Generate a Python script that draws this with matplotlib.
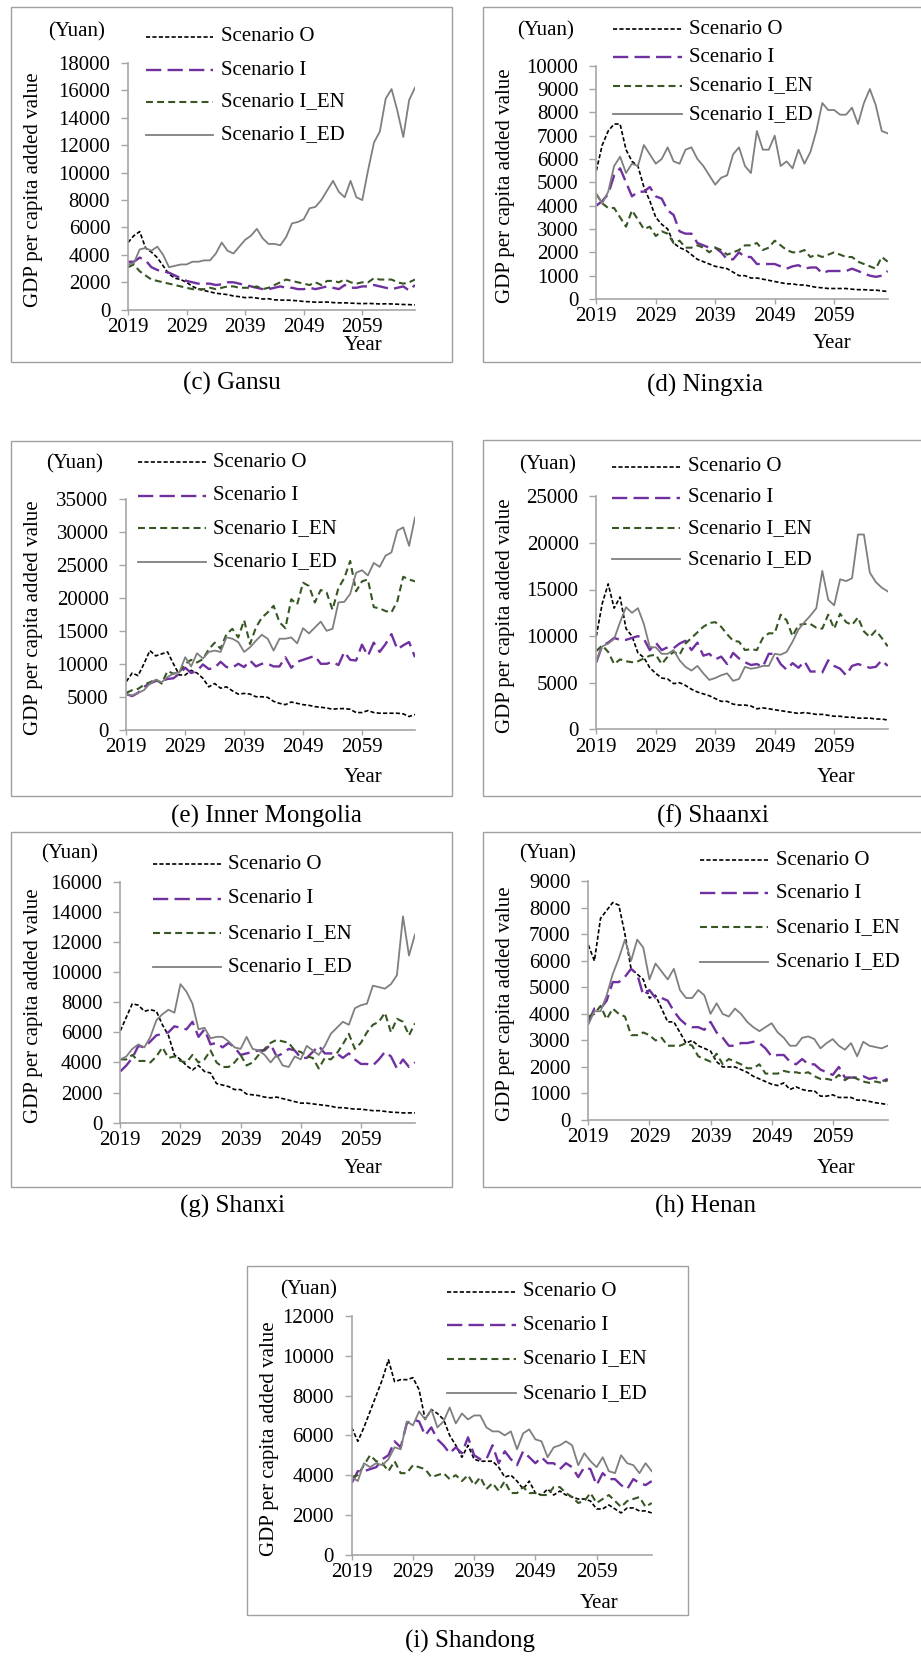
import matplotlib
matplotlib.use("Agg")
import matplotlib.pyplot as plt
from matplotlib.lines import Line2D
from matplotlib.patches import Rectangle

plt.rcParams['font.family'] = ['Liberation Serif', 'DejaVu Serif']
plt.rcParams['lines.scale_dashes'] = False

W, H = 921, 1657

years = list(range(2019, 2069))
year_ticks = [2019, 2029, 2039, 2049, 2059]
scenarios = ["Scenario O", "Scenario I", "Scenario I_EN", "Scenario I_ED"]

# GDP per capita added value (yuan), one list per province and scenario
gansu_o = [4900, 5400, 5700, 4500, 4200, 3800, 3200, 2600, 2300, 2200,
           2000, 1700, 1500, 1400, 1300, 1200, 1150, 1100, 1000, 950,
           880, 900, 850, 780, 800, 720, 700, 700, 680, 650,
           600, 580, 550, 550, 560, 520, 500, 500, 480, 460,
           440, 460, 440, 420, 430, 420, 400, 380, 370, 350]
gansu_i = [3500, 3500, 3800, 3600, 3100, 2900, 2800, 2700, 2500, 2300,
           2100, 2000, 1900, 1900, 1900, 1800, 1850, 2000, 2000, 1900,
           1800, 1700, 1600, 1500, 1500, 1600, 1700, 1600, 1600, 1500,
           1500, 1600, 1500, 1600, 1700, 1600, 1500, 1800, 1600, 1600,
           1700, 1700, 1800, 1700, 1600, 1500, 1600, 1700, 1400, 1800]
gansu_en = [3100, 3300, 2800, 2500, 2200, 2100, 2000, 1900, 1800, 1700,
            1600, 1500, 1500, 1500, 1600, 1500, 1600, 1700, 1700, 1600,
            1600, 1600, 1700, 1500, 1600, 1800, 2000, 2200, 2100, 2000,
            1900, 1800, 2000, 1800, 2100, 2100, 2000, 2200, 2000, 1900,
            2000, 2000, 2300, 2200, 2200, 2200, 2000, 1900, 2000, 2200]
gansu_ed = [3300, 3400, 4400, 4500, 4300, 4600, 4000, 3100, 3200, 3300,
            3300, 3500, 3500, 3600, 3600, 4100, 4900, 4300, 4100, 4600,
            5100, 5400, 5900, 5200, 4800, 4800, 4700, 5300, 6300, 6400,
            6600, 7400, 7500, 8000, 8700, 9400, 8600, 8200, 9400, 8200,
            8000, 10200, 12200, 13000, 15400, 16100, 14500, 12600, 15300, 16200]

ningxia_o = [5500, 6600, 7200, 7500, 7500, 6400, 5900, 5700, 4800, 4200,
             3500, 3200, 3000, 2400, 2200, 2100, 1900, 1700, 1600, 1500,
             1400, 1350, 1300, 1150, 1000, 1000, 900, 900, 850, 800,
             750, 700, 650, 650, 600, 600, 550, 500, 480, 450,
             450, 450, 450, 420, 400, 400, 380, 380, 350, 320]
ningxia_i = [4000, 4200, 4500, 5300, 5600, 5000, 4400, 4600, 4600, 4800,
             4400, 4300, 3800, 3600, 2900, 2800, 2800, 2400, 2300, 2200,
             2200, 2000, 1700, 1700, 2000, 1800, 1800, 1500, 1500, 1500,
             1500, 1400, 1300, 1400, 1450, 1300, 1350, 1350, 1100, 1200,
             1200, 1200, 1200, 1300, 1200, 1100, 1000, 950, 1000, 1200]
ningxia_en = [4500, 4100, 3900, 3900, 3500, 3100, 3800, 3400, 3000, 3100,
              2700, 2900, 2800, 2400, 2500, 2200, 2200, 2300, 2200, 2000,
              2200, 2100, 1900, 2000, 2100, 2300, 2300, 2400, 2100, 2200,
              2500, 2300, 2100, 2000, 2000, 2100, 1800, 1900, 1800, 1900,
              2000, 1900, 1800, 1800, 1600, 1500, 1400, 1300, 1800, 1600]
ningxia_ed = [4500, 4100, 4600, 5700, 6100, 5400, 5800, 5700, 6600, 6200,
              5800, 6000, 6500, 5900, 5800, 6400, 6500, 6000, 5700, 5300,
              4900, 5200, 5300, 6200, 6500, 5700, 5400, 7200, 6400, 6400,
              7000, 5700, 5900, 5600, 6400, 5800, 6300, 7200, 8400, 8100,
              8100, 7900, 7900, 8200, 7500, 8400, 9000, 8300, 7200, 7100]

mongolia_o = [7300, 8600, 8200, 10000, 12000, 11200, 11500, 11800, 10000, 8300,
              8300, 9000, 8600, 7800, 6500, 7000, 6300, 6500, 5900, 5400,
              5500, 5400, 5000, 5000, 4900, 4300, 4000, 3800, 4200, 4000,
              3800, 3700, 3500, 3400, 3300, 3100, 3200, 3200, 3100, 2600,
              2600, 2900, 2600, 2500, 2500, 2500, 2500, 2400, 2000, 2300]
mongolia_i = [5400, 5100, 5600, 6500, 7000, 7400, 7400, 7700, 7800, 8500,
              9400, 8600, 8900, 9900, 9200, 9400, 10300, 9500, 9400, 10000,
              9500, 10500, 9600, 10000, 10000, 9600, 9600, 11000, 9400, 10300,
              10600, 10900, 11200, 10000, 10000, 10300, 9800, 11800, 10600, 10500,
              12900, 11200, 13200, 11800, 13000, 14500, 12200, 12800, 13300, 11000]
mongolia_en = [5600, 6000, 6200, 6800, 7200, 7600, 7000, 8900, 8500, 8700,
               10000, 10600, 10200, 10700, 12200, 13200, 12300, 14500, 15300, 14000,
               16600, 13000, 15500, 17000, 17800, 18800, 16300, 15400, 19800, 19000,
               22300, 21800, 19300, 21200, 20800, 18200, 21500, 23000, 25600, 21000,
               22500, 22800, 18600, 18400, 18000, 17800, 19500, 23200, 22800, 22500]
mongolia_ed = [5400, 5200, 5600, 6000, 7000, 7600, 7200, 8000, 8500, 8700,
               11000, 9600, 11600, 10800, 11800, 12000, 11800, 14000, 13800, 13300,
               11800, 12500, 13500, 14400, 13800, 12000, 13800, 13800, 14000, 13100,
               15400, 14600, 15500, 16400, 15000, 15300, 19300, 19400, 20600, 23800,
               24200, 23400, 25300, 24700, 26400, 26900, 30200, 30700, 27900, 32200]

shaanxi_o = [10000, 13500, 15600, 13000, 14200, 10800, 10000, 8200, 7700, 6600,
             6000, 5500, 5400, 4900, 5000, 4700, 4300, 4000, 3800, 3600,
             3300, 3000, 3000, 2700, 2600, 2600, 2500, 2200, 2300, 2200,
             2100, 2000, 1900, 1800, 1700, 1800, 1700, 1600, 1600, 1500,
             1400, 1400, 1300, 1300, 1200, 1200, 1200, 1100, 1100, 1000]
shaanxi_i = [7200, 9000, 9300, 9800, 9600, 9600, 9800, 10000, 9700, 8500,
             9300, 8500, 8800, 8700, 9200, 9500, 8500, 9300, 7900, 8100,
             7500, 7800, 7000, 8200, 7600, 7200, 6900, 7000, 6700, 8100,
             8100, 7000, 6400, 7100, 6600, 7300, 6200, 6200, 6100, 7400,
             6800, 6500, 5800, 6800, 7000, 6800, 6600, 6700, 7400, 6800]
shaanxi_en = [8400, 9000, 8300, 7000, 7500, 7300, 7200, 7300, 7600, 7900,
              8000, 7000, 7800, 8300, 8000, 9200, 9800, 10400, 11000, 11400,
              11500, 11000, 10200, 9500, 9400, 8500, 8600, 8500, 9800, 10300,
              10300, 12300, 11700, 10000, 11200, 11300, 11300, 10900, 10800, 12300,
              10800, 12400, 11500, 11200, 12000, 10500, 9900, 10600, 9800, 8900]
shaanxi_ed = [7300, 8900, 9200, 9700, 11500, 13100, 12500, 13000, 11300, 8800,
              8800, 8100, 8100, 8500, 7400, 6700, 6300, 6800, 6000, 5300,
              5500, 5800, 6000, 5200, 5400, 6700, 6500, 6600, 6800, 6800,
              8100, 8000, 8300, 9400, 10700, 11500, 12200, 13000, 17000, 13900,
              13300, 16100, 15900, 16200, 20900, 20900, 16800, 15800, 15200, 14800]

shanxi_o = [6100, 7000, 7900, 7800, 7400, 7500, 7400, 6500, 5800, 4500,
            4200, 3800, 3500, 3800, 3400, 3300, 2600, 2500, 2400, 2200,
            2200, 1900, 1850, 1800, 1700, 1650, 1700, 1600, 1500, 1400,
            1300, 1300, 1250, 1200, 1150, 1100, 1000, 1000, 950, 900,
            900, 850, 800, 800, 750, 700, 680, 650, 650, 650]
shanxi_i = [3400, 3800, 4300, 5100, 5000, 5400, 5800, 5900, 6000, 6400,
            6300, 6200, 6700, 5700, 6200, 5200, 5300, 5000, 5300, 5000,
            4500, 4600, 4700, 4800, 4800, 5200, 4400, 4600, 4900, 4800,
            4300, 4300, 4700, 5100, 4600, 4600, 4600, 4300, 4600, 4200,
            3900, 3900, 3800, 4200, 4700, 4400, 3600, 4200, 3700, 4000]
shanxi_en = [4200, 4200, 4500, 4100, 4100, 4000, 4400, 5000, 4300, 4400,
             4100, 4000, 4500, 4000, 4200, 4800, 4000, 3700, 3700, 4000,
             4500, 3800, 4000, 4500, 4900, 5300, 5500, 5400, 5300, 4800,
             4700, 4400, 4300, 3600, 4300, 4200, 4600, 5200, 5900, 4900,
             5300, 6000, 6500, 6700, 7300, 6000, 6900, 6700, 5800, 6600]
shanxi_ed = [4200, 4400, 4900, 5200, 5000, 5700, 6800, 7200, 7500, 7300,
             9200, 8700, 7900, 6200, 6300, 5600, 5700, 5700, 5400, 5000,
             4900, 5700, 4900, 4800, 4500, 4000, 4500, 3800, 3700, 4400,
             4200, 5100, 4800, 4500, 5100, 5900, 6300, 6700, 6500, 7600,
             7800, 7900, 9100, 9000, 8900, 9200, 9800, 13700, 11100, 12500]

henan_o = [6600, 6000, 7600, 7900, 8200, 8100, 7000, 5700, 5500, 5300,
           4600, 4700, 4200, 3700, 3700, 3300, 2900, 3000, 2800, 2700,
           2600, 2200, 2000, 2000, 2000, 1900, 1800, 1650, 1550, 1450,
           1350, 1300, 1400, 1150, 1250, 1150, 1100, 1100, 900, 900,
           950, 850, 850, 850, 750, 750, 700, 650, 620, 580]
henan_i = [3700, 4200, 4200, 4500, 5200, 5200, 5400, 5700, 5500, 4700,
           4900, 4600, 4600, 4500, 4100, 3800, 3600, 3500, 3500, 3400,
           3700, 3300, 3100, 2800, 2800, 2900, 2900, 2950, 2900, 2700,
           2400, 2450, 2450, 2200, 2100, 2300, 2100, 2100, 1900, 1800,
           1700, 2000, 1600, 1600, 1600, 1650, 1550, 1600, 1450, 1550]
henan_en = [3900, 4000, 4300, 3800, 4200, 4000, 3900, 3200, 3200, 3300,
            3200, 3000, 3100, 2800, 2800, 2800, 2900, 2800, 2400, 2300,
            2200, 2500, 2100, 2300, 2200, 2100, 1950, 1950, 2100, 1750,
            1750, 1750, 1850, 1800, 1800, 1750, 1800, 1650, 1550, 1550,
            1500, 1700, 1500, 1650, 1550, 1450, 1400, 1450, 1400, 1500]
henan_ed = [3600, 4100, 4100, 4700, 5500, 6100, 6800, 6000, 6800, 6500,
            5300, 5900, 5600, 5300, 5700, 4900, 4600, 4600, 4900, 4700,
            4000, 4400, 4000, 3900, 4200, 4000, 3700, 3500, 3350, 3500,
            3650, 3300, 3100, 2800, 2800, 3100, 3150, 3050, 2700, 2900,
            3050, 2800, 2650, 2900, 2400, 2950, 2800, 2750, 2700, 2800]

shandong_o = [6400, 5700, 6400, 7200, 8000, 8800, 9800, 8700, 8800, 8800,
              8900, 8300, 6800, 7300, 7100, 6800, 6000, 5500, 4900, 5500,
              4800, 4700, 4700, 4700, 4400, 3900, 4000, 3700, 3300, 3700,
              3100, 3000, 3300, 3000, 3200, 3000, 2900, 2800, 2800, 2700,
              2300, 2300, 2500, 2300, 2100, 2350, 2350, 2200, 2200, 2100]
shandong_i = [3600, 4200, 4200, 4300, 4400, 4800, 5000, 5700, 5400, 6600,
              6800, 6700, 6000, 6400, 5800, 5500, 5100, 5400, 5100, 5900,
              5000, 4800, 4800, 5500, 4600, 5200, 4800, 4500, 5200, 4900,
              4600, 4900, 4600, 4600, 4300, 4600, 4400, 3900, 4400, 4300,
              3500, 4100, 3800, 3800, 3500, 3300, 3800, 3600, 3500, 3700]
shandong_en = [3900, 4000, 4500, 5000, 4700, 4600, 4200, 4700, 4100, 4100,
               4500, 4400, 4300, 3900, 4000, 4100, 3800, 4000, 3700, 4000,
               3500, 3900, 3300, 3600, 3200, 3700, 3100, 3100, 3400, 3100,
               3100, 3000, 3000, 3400, 3400, 3100, 2900, 2600, 2700, 3100,
               2600, 2800, 3000, 2700, 2400, 2700, 2800, 2900, 2400, 2600]
shandong_ed = [3900, 3700, 4600, 4400, 4600, 4500, 4800, 5400, 5300, 6700,
               6500, 7200, 6800, 7300, 6400, 6700, 7400, 6600, 7100, 6800,
               7000, 7000, 6400, 6200, 6200, 6000, 6200, 5300, 6100, 6300,
               5800, 5700, 4900, 5400, 5500, 5700, 5500, 4500, 5100, 4700,
               4400, 4900, 4200, 4100, 5000, 4600, 4500, 4100, 4600, 4200]

# line look for O, I, I_EN, I_ED
styles = [
    dict(color="black", lw=1.2, dashes=(3.0, 1.6)),
    dict(color="#7030A0", lw=1.7, dashes=(11.0, 4.5)),
    dict(color="#375623", lw=1.5, dashes=(5.0, 3.0)),
    dict(color="#7F7F7F", lw=1.3, ls="-"),
]

AXIS_GRAY = "#A6A6A6"
FS = 15


def fx(x):
    return x / W


def fy(y):
    return 1 - y / H


def draw_panel(fig, caption, series, ymax, ystep, box, axbox, ylab_x,
               yuan_xy, leg, year_xy, cap_xy):
    l, t, r, b = box
    fig.add_artist(Rectangle((fx(l), fy(b)), (r - l) / W, (b - t) / H,
                             transform=fig.transFigure, fill=False,
                             ec="#A0A0A0", lw=1.0))

    L, R, y0, ytop = axbox
    ax = fig.add_axes([fx(L), fy(y0), (R - L) / W, (y0 - ytop) / H])
    for vals, st in zip(series, styles):
        ax.plot(years, vals, **st)
    ax.set_xlim(years[0], years[-1])
    ax.set_ylim(0, ymax)
    ax.set_xticks(year_ticks)
    ax.set_yticks(range(0, ymax + 1, ystep))
    ax.patch.set_alpha(0)
    for side in ("top", "right"):
        ax.spines[side].set_visible(False)
    for side in ("left", "bottom"):
        ax.spines[side].set_color(AXIS_GRAY)
        ax.spines[side].set_linewidth(1.2)
    ax.tick_params(axis="y", length=4.8, width=1, color=AXIS_GRAY,
                   labelsize=FS, pad=8.0)
    ax.tick_params(axis="x", length=3.6, width=1, color=AXIS_GRAY,
                   labelsize=FS, pad=2.5)

    fig.text(fx(ylab_x), fy((y0 + ytop) / 2 + 3), "GDP per capita added value",
             rotation=90, ha="center", va="center", fontsize=FS)
    fig.text(fx(yuan_xy[0]), fy(yuan_xy[1]), "(Yuan)", ha="center",
             va="center", fontsize=FS)

    x1, x2, tx, rows = leg
    for name, st, ry in zip(scenarios, styles, rows):
        ln = Line2D([fx(x1), fx(x2)], [fy(ry), fy(ry)],
                    transform=fig.transFigure, **st)
        fig.add_artist(ln)
        fig.text(fx(tx), fy(ry), name, ha="left", va="center", fontsize=FS)

    fig.text(fx(year_xy[0]), fy(year_xy[1]), "Year", ha="center",
             va="center", fontsize=FS)
    fig.text(fx(cap_xy[0]), fy(cap_xy[1]), caption, ha="center",
             va="center", fontsize=18)


fig = plt.figure(figsize=(W / 100, H / 100), dpi=100)

draw_panel(fig, "(c) Gansu", [gansu_o, gansu_i, gansu_en, gansu_ed],
           18000, 2000, (10.7, 7, 452, 362), (128, 415, 309.7, 63), 33.3,
           (76.7, 31.7), (145.7, 213, 220.7, [36.7, 70.3, 102, 135]),
           (362.7, 345), (232, 383))
draw_panel(fig, "(d) Ningxia", [ningxia_o, ningxia_i, ningxia_en, ningxia_ed],
           10000, 1000, (483, 7, 930, 362), (596.3, 887.7, 299, 65.7), 505.7,
           (546, 30.7), (613.3, 681.7, 689.3, [29.3, 57.3, 85.7, 114.3]),
           (831.7, 343.3), (705, 385))
draw_panel(fig, "(e) Inner Mongolia",
           [mongolia_o, mongolia_i, mongolia_en, mongolia_ed],
           35000, 5000, (10.7, 440.7, 452, 796), (126.3, 415, 729.7, 499), 33.3,
           (74.3, 464.3), (137.7, 205.7, 213.3, [462.3, 495.7, 528.3, 561.7]),
           (362.7, 777.7), (266, 816))
draw_panel(fig, "(f) Shaanxi", [shaanxi_o, shaanxi_i, shaanxi_en, shaanxi_ed],
           25000, 5000, (483, 440, 930, 796), (596.3, 887.7, 729.3, 496.3), 505.7,
           (547.3, 465), (611.7, 680, 687.7, [466.7, 497.7, 528.3, 559.3]),
           (835.7, 777.7), (713, 816))
draw_panel(fig, "(g) Shanxi", [shanxi_o, shanxi_i, shanxi_en, shanxi_ed],
           16000, 2000, (10.7, 831.7, 452, 1186.7), (120.3, 415, 1122.7, 881.7),
           33.3, (70, 854.3), (152.7, 220.7, 228.3, [864.3, 898.7, 933.3, 966.7]),
           (362.7, 1168.3), (232, 1206.7))
draw_panel(fig, "(h) Henan", [henan_o, henan_i, henan_en, henan_ed],
           9000, 1000, (483, 831.7, 930, 1186.7), (588.3, 887.7, 1120, 881.3),
           505.7, (547.3, 854.3), (700, 768.3, 776, [860, 893.3, 927.3, 961.7]),
           (835.7, 1168.3), (705, 1206.7))
draw_panel(fig, "(i) Shandong", [shandong_o, shandong_i, shandong_en, shandong_ed],
           12000, 2000, (246.7, 1265.7, 688, 1615), (351.7, 651.7, 1554.7, 1316),
           269.3, (308.3, 1290), (447.3, 515.7, 523.3, [1291.7, 1325, 1359, 1393.3]),
           (599.3, 1603.3), (470, 1641.7))

fig.savefig("out.png", dpi=100, facecolor="white")
